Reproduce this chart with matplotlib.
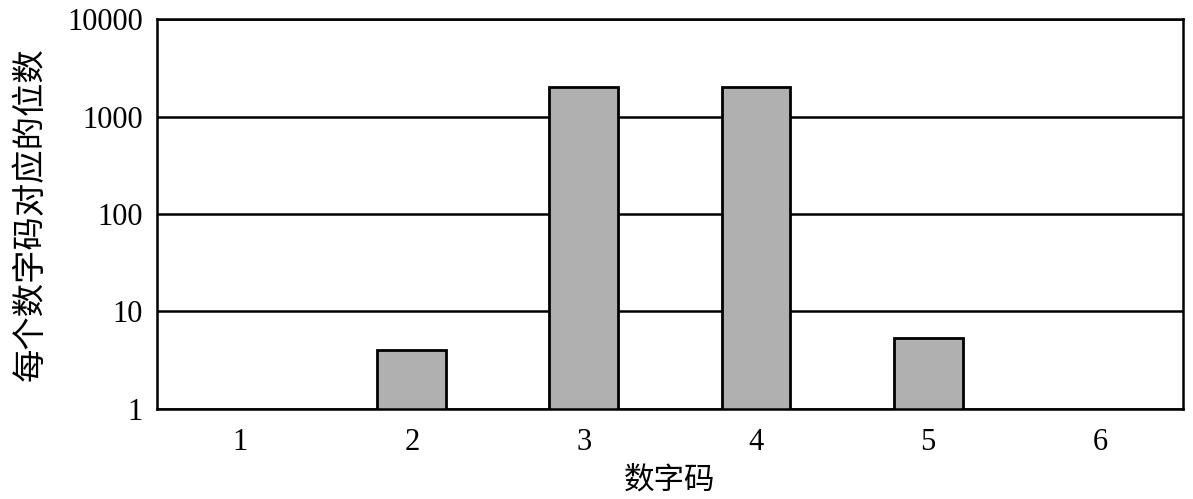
import matplotlib.pyplot as plt
import numpy as np

# Data
codes = ['1', '2', '3', '4', '5', '6']
digit_counts = [0, 4, 2000, 2000, 5.3, 0]
y_ticks = [1, 10, 100, 1000, 10000]
y_tick_labels = ['1', '10', '100', '1000', '10000']


def main() -> None:
    fig = plt.figure(figsize=(11.93, 4.99), dpi=100)
    ax = fig.add_axes([0.1316, 0.1804, 0.86, 0.7815])

    x = np.arange(1, len(codes) + 1)
    ax.set_yscale('log', nonpositive='clip')

    # Gridlines at each decade
    for t in y_ticks:
        ax.axhline(t, color='black', linewidth=1.8, zorder=1)

    ax.bar(x, digit_counts, width=0.4, color='#b0b0b0',
           edgecolor='black', linewidth=2, zorder=2)

    ax.set_xlim(0.52, 6.48)
    ax.set_ylim(1, 10000)
    ax.set_xticks(x)
    ax.set_xticklabels(codes, fontfamily='Liberation Serif', fontsize=22)
    ax.set_yticks(y_ticks)
    ax.set_yticklabels(y_tick_labels, fontfamily='Liberation Serif', fontsize=22)
    ax.minorticks_off()
    ax.tick_params(axis='x', length=0, pad=14)
    ax.tick_params(axis='y', length=0, pad=10)

    for s in ax.spines.values():
        s.set_linewidth(1.8)

    ax.set_xlabel('数字码', fontfamily='Noto Sans CJK SC', fontsize=22, labelpad=5)
    ax.set_ylabel('每个数字码对应的位数', fontfamily='Noto Sans CJK SC',
                  fontsize=24, labelpad=14)

    plt.savefig('out.png', dpi=100)
    plt.close()


if __name__ == "__main__":
    main()
